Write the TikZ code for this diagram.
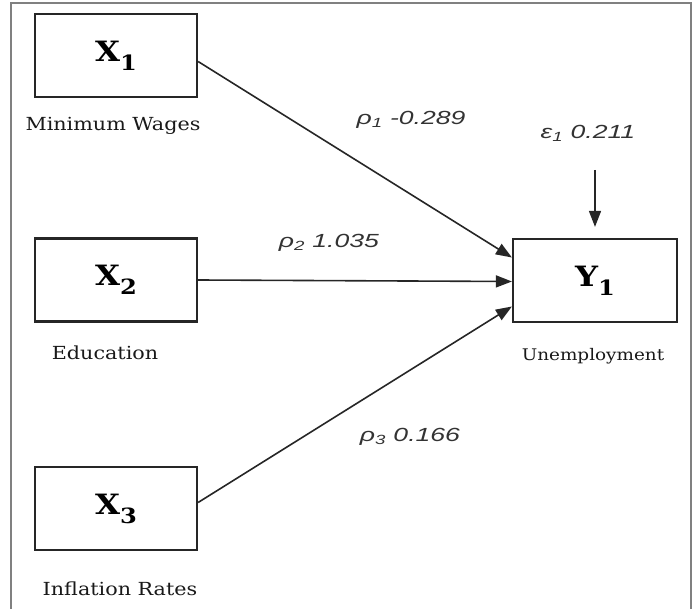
\documentclass[tikz,border=0pt]{standalone}
\usepackage{fontspec}
\setmainfont{DejaVu Serif}[FakeStretch=1.15]
\newfontfamily\coeffont{Liberation Sans}[FakeStretch=1.4]
\usetikzlibrary{positioning,arrows.meta}

\tikzset{
  varbox/.style={draw=black!85, line width=2.2pt, minimum width=162pt, minimum height=83pt, inner sep=0pt},
  varname/.style={font=\fontsize{18}{20}\selectfont, text=black!90},
  coef/.style={font=\coeffont\itshape\fontsize{19}{21}\selectfont, text=black!80},
  path/.style={line width=1.6pt, draw=black!85, -{Triangle[length=16pt,width=12pt]}}
}
\newcommand{\boxsym}[2]{{\fontsize{28}{30}\selectfont\bfseries #1}\raisebox{-9pt}{\fontsize{21}{22}\selectfont\bfseries #2}}

\begin{document}
\begin{tikzpicture}[x=1pt, y=-1pt]
    \useasboundingbox (0,0) rectangle (697,609);
    \draw[black!50, line width=2pt] (11,609) -- (11,3) -- (691,3) -- (691,609);

    % exogenous variables
    \node[varbox] (x1) at (116,55.5) {\boxsym{X}{1}};
    \node[varbox] (x2) at (116,280) {\boxsym{X}{2}};
    \node[varbox] (x3) at (116,508.5) {\boxsym{X}{3}};
    \node[varname] (l1) at (113,126) {Minimum Wages};
    \node[varname] (l2) at (105,353) {Education};
    \node[varname] (l3) at (120,589) {Inflation Rates};

    % endogenous variable
    \node[varbox, minimum width=164pt] (y1) at (595,280.5) {\boxsym{Y}{1}};
    \node[varname, font=\fontsize{16}{18}\selectfont] (ly) at (593,356) {Unemployment};
    \coordinate (e1) at (595,170);

    % paths
    \draw[path] ([yshift=-6pt]x1.east) -- ([yshift=23pt]y1.west);
    \draw[path] (x2.east) -- ([yshift=-1pt]y1.west);
    \draw[path] ([yshift=6pt]x3.east) -- ([yshift=-26pt]y1.west);
    \draw[path] (e1) -- ([yshift=11pt]y1.north);

    \node[coef] (p1) at (411,120) {ρ\textsubscript{1} -0.289};
    \node[coef] (p2) at (329,243) {ρ\textsubscript{2} 1.035};
    \node[coef] (p3) at (410,437) {ρ\textsubscript{3} 0.166};
    \node[coef] (ep) at (588,133) {ε\textsubscript{1} 0.211};
\end{tikzpicture}
\end{document}
